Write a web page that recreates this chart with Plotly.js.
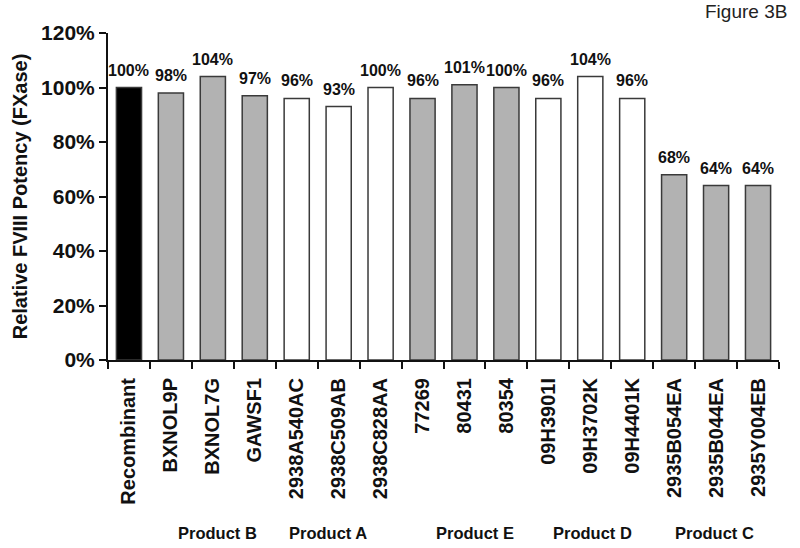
<!DOCTYPE html>
<html>
<head>
<meta charset="utf-8">
<script src="https://cdn.plot.ly/plotly-3.0.1.min.js"></script>
<style>html,body{margin:0;padding:0;background:#fff;}#chart{width:800px;height:548px;}</style>
</head>
<body>
<div id="chart"></div>
<script>
var categories = ["Recombinant","BXNOL9P","BXNOL7G","GAWSF1","2938A540AC","2938C509AB","2938C828AA","77269","80431","80354","09H3901I","09H3702K","09H4401K","2935B054EA","2935B044EA","2935Y004EB"];
var potency = [100, 98, 104, 97, 96, 93, 100, 96, 101, 100, 96, 104, 96, 68, 64, 64];
var groupOf = ["Recombinant","Product B","Product B","Product B","Product A","Product A","Product A","Product E","Product E","Product E","Product D","Product D","Product D","Product C","Product C","Product C"];
var groupNames = ["Product B","Product A","Product E","Product D","Product C"];
var yTicks = [0, 20, 40, 60, 80, 100, 120];
var yTickLabels = ["0%","20%","40%","60%","80%","100%","120%"];

var groupColor = {"Recombinant":"#000000","Product B":"#b2b2b2","Product A":"#ffffff","Product E":"#b2b2b2","Product D":"#ffffff","Product C":"#b2b2b2"};
var groupLabelX = {"Product B":2.1,"Product A":4.75,"Product E":8.25,"Product D":11.05,"Product C":13.95};

var FONT = "Liberation Sans, Arial, Helvetica, sans-serif";

var trace = {
  type: "bar",
  x: categories,
  y: potency,
  width: 0.6,
  marker: {color: groupOf.map(function(g){return groupColor[g];}), line: {color: "#3a3a3a", width: 1.5}},
  hoverinfo: "none"
};

var annotations = categories.map(function(c, i){
  return {text: "<b>" + potency[i] + "%</b>", x: i, xref: "x", y: potency[i], yref: "y",
          showarrow: false, xanchor: "center", yanchor: "bottom", yshift: 7,
          font: {family: FONT, size: 16, color: "#111"}};
});
groupNames.forEach(function(g){
  annotations.push({text: "<b>" + g + "</b>", x: groupLabelX[g], xref: "x", y: -0.53, yref: "paper",
          showarrow: false, xanchor: "center", yanchor: "middle",
          font: {family: FONT, size: 16.5, color: "#111"}});
});
annotations.push({text: "Figure 3B", xref: "paper", yref: "paper", x: 1.015, y: 1.065,
  xanchor: "right", yanchor: "middle", showarrow: false, font: {family: FONT, size: 19, color: "#222"}});

var layout = {
  width: 800, height: 548,
  margin: {l: 108, r: 21, t: 33, b: 188},
  paper_bgcolor: "#fff", plot_bgcolor: "#fff",
  showlegend: false,
  xaxis: {
    type: "category",
    tickson: "boundaries",
    ticks: "outside", ticklen: 7, tickwidth: 2, tickcolor: "#111",
    showline: true, linecolor: "#111", linewidth: 2,
    tickangle: -90,
    tickfont: {family: FONT, size: 20, color: "#111", weight: "bold"},
    ticklabelstandoff: 8,
    showgrid: false, zeroline: false,
    range: [-0.5, 15.5]
  },
  yaxis: {
    range: [0, 120],
    tickvals: yTicks, ticktext: yTickLabels,
    ticks: "outside", ticklen: 7, tickwidth: 2, tickcolor: "#111",
    showline: true, linecolor: "#111", linewidth: 2,
    tickfont: {family: FONT, size: 21, color: "#111", weight: "bold"},
    showgrid: false, zeroline: false,
    title: {text: "Relative FVIII Potency (FXase)", font: {family: FONT, size: 20, color: "#111", weight: "bold"}, standoff: 8}
  },
  annotations: annotations
};

Plotly.newPlot("chart", [trace], layout, {displayModeBar: false, staticPlot: true});
</script>
</body>
</html>
